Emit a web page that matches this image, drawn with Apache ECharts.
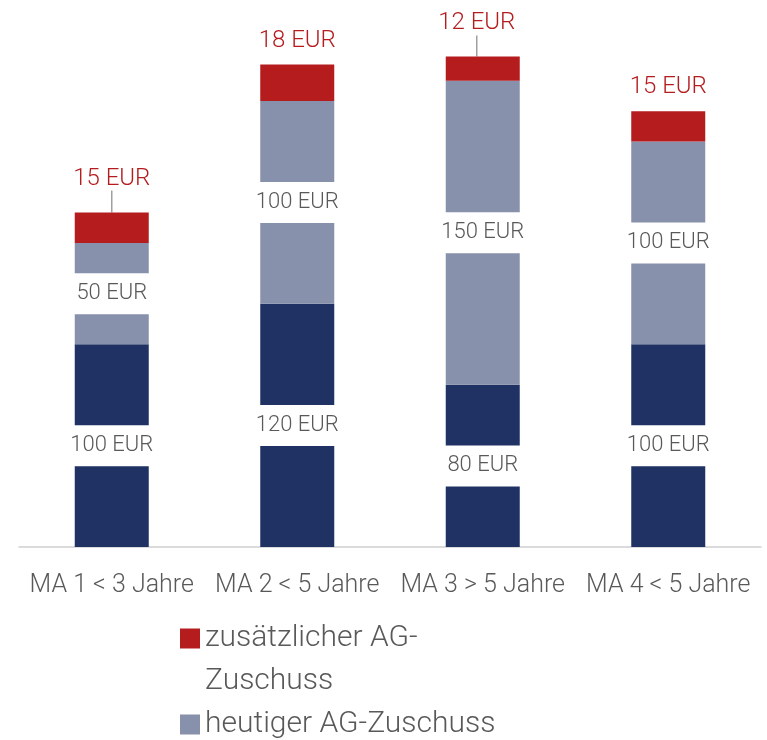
<!DOCTYPE html>
<html>
<head>
<meta charset="utf-8">
<script src="https://cdn.jsdelivr.net/npm/echarts@6/dist/echarts.min.js"></script>
<style>
  html, body { margin: 0; padding: 0; background: #fff; }
  #chart { width: 767px; height: 740px; }
</style>
</head>
<body>
<div id="chart"></div>
<script>
const categories = ['MA 1 < 3 Jahre', 'MA 2 < 5 Jahre', 'MA 3 > 5 Jahre', 'MA 4 < 5 Jahre'];
const seriesNames = ['zusätzlicher AG-Zuschuss', 'heutiger AG-Zuschuss', 'Grundbetrag'];
const baseValues = [100, 120, 80, 100];
const todayValues = [50, 100, 150, 100];
const extraValues = [15, 18, 12, 15];
// which top labels are pushed up and drawn with a leader line
const leaderLines = [true, false, true, false];

const textGrey = '#595959';
const font = 'Roboto';

const insideLabel = {
  show: true,
  position: 'inside',
  formatter: '{c} EUR',
  color: textGrey,
  fontFamily: font,
  fontWeight: 300,
  fontSize: 22,
  lineHeight: 23,
  backgroundColor: '#fff',
  padding: [16, 8, 2, 8]
};

const chart = echarts.init(document.getElementById('chart'));
chart.setOption({
  animation: false,
  color: ['#b51c1e', '#8891ab', '#1f3263'],
  grid: { left: 19, right: 6, top: 20, bottom: 193 },
  xAxis: {
    type: 'category',
    data: categories,
    axisLine: { lineStyle: { color: '#d0d0d0', width: 1.5 } },
    axisTick: { show: false },
    axisLabel: { interval: 0, color: textGrey, fontFamily: font, fontWeight: 300, fontSize: 25, margin: 26 }
  },
  yAxis: { type: 'value', min: 0, max: 260, show: false, splitLine: { show: false } },
  legend: {
    orient: 'vertical',
    left: 180,
    top: 574,
    height: 600,
    padding: 0,
    itemGap: 0,
    itemWidth: 20,
    itemHeight: 20,
    icon: 'rect',
    textStyle: { color: textGrey, fontFamily: font, fontWeight: 300, fontSize: 30, lineHeight: 43 },
    formatter: function (name) {
      return name === seriesNames[0] ? '\nzusätzlicher AG-\nZuschuss' : name;
    },
    data: seriesNames
  },
  series: [
    {
      name: seriesNames[2], type: 'bar', stack: 'total', barWidth: 74,
      itemStyle: { color: '#1f3263' },
      label: insideLabel,
      data: baseValues
    },
    {
      name: seriesNames[1], type: 'bar', stack: 'total',
      itemStyle: { color: '#8891ab' },
      label: insideLabel,
      data: todayValues
    },
    {
      name: seriesNames[0], type: 'bar', stack: 'total',
      itemStyle: { color: '#b51c1e' },
      label: {
        show: true,
        position: 'top',
        distance: 12,
        formatter: '{c} EUR',
        color: '#b51c1e',
        fontFamily: font,
        fontWeight: 300,
        fontSize: 24,
        lineHeight: 24
      },
      labelLayout: function (p) {
        if (p.dataIndex === 0) return { dy: -10 };
        if (p.dataIndex === 2) return { dy: -9, dx: -6 };
        return {};
      },
      data: extraValues.map(function (v, i) {
        return { value: v, labelLine: { show: leaderLines[i], lineStyle: { color: '#a0a0a0', width: 1.5 } } };
      })
    }
  ]
});
</script>
</body>
</html>
